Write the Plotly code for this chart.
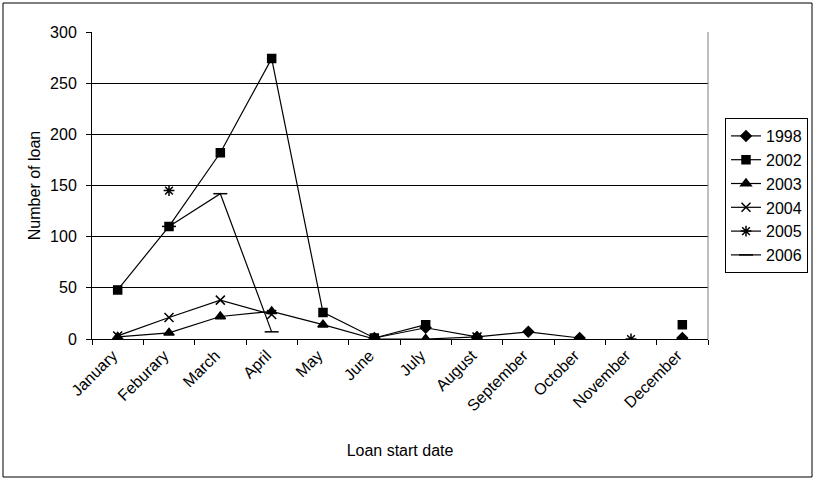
import plotly.graph_objects as go

months = ["January", "Feburary", "March", "April", "May", "June", "July",
          "August", "September", "October", "November", "December"]

y1998 = [None, None, None, None, None, 1, 11, 2, 7, 1, None, 1]
y2002 = [48, 110, 182, 274, 26, 1, 14, None, None, None, None, 14]
y2003 = [2, 6, 22, 27, 14, 0, 0, 2, None, None, None, 1]
y2004 = [3, 21, 38, 24, None, None, None, 2, None, None, None, None]
y2005 = [None, 145, None, None, None, None, None, 2, None, None, 0, None]
y2006 = [None, 110, 142, 7, None, None, None, None, None, None, None, None]

series = [
    ("1998", y1998, "diamond", 8),
    ("2002", y2002, "square", 8),
    ("2003", y2003, "triangle-up", 9),
    ("2004", y2004, "x-thin-open", 9),
    ("2005", y2005, "asterisk-open", 9),
    ("2006", y2006, "line-ew-open", 10),
]

fig = go.Figure()
for name, vals, sym, size in series:
    fig.add_trace(go.Scatter(
        x=months, y=vals, name=name, mode="lines+markers",
        connectgaps=False,
        line=dict(color="black", width=1.2),
        marker=dict(symbol=sym, size=size, color="black",
                    line=dict(color="black", width=1.5)),
    ))

L, R, T, B = 92, 111, 32, 144
W, H = 819, 483
pw, ph = W - L - R, H - T - B

def px(x):
    return (x - L) / pw

def py(y):
    return (H - B - y) / ph

fig.update_layout(
    width=W, height=H,
    margin=dict(l=L, r=R, t=T, b=B, pad=0, autoexpand=False),
    paper_bgcolor="white", plot_bgcolor="white",
    font=dict(family="Liberation Sans, Arial, sans-serif", color="black", size=16),
    showlegend=True,
    legend=dict(
        x=px(725), y=py(118), xanchor="left", yanchor="top",
        bordercolor="black", borderwidth=1,
        font=dict(size=16), tracegroupgap=0,
        bgcolor="white",
    ),
    xaxis=dict(
        type="category", range=[-0.5, 11.5],
        showline=True, linecolor="black", linewidth=1,
        ticks="outside", ticklen=5, tickcolor="black", tickson="boundaries",
        tickangle=-45, tickfont=dict(size=16), ticklabelshift=-5,
        showgrid=False, zeroline=False, automargin=False,
        title=dict(text="Loan start date", font=dict(size=16), standoff=31),
    ),
    yaxis=dict(
        range=[0, 300], dtick=50,
        showline=True, linecolor="black", linewidth=1,
        ticks="outside", ticklen=5, tickcolor="black",
        ticklabelstandoff=6,
        showgrid=True, gridcolor="black", gridwidth=1,
        zeroline=False, tickfont=dict(size=16), automargin=False,
        title=dict(text="Number of loan", font=dict(size=16), standoff=5),
    ),
    shapes=[
        dict(type="rect", xref="paper", yref="paper",
             x0=px(3), x1=px(812), y0=py(477), y1=py(3),
             line=dict(color="black", width=1), layer="below"),
        dict(type="line", xref="paper", yref="paper",
             x0=1, x1=1, y0=0, y1=1,
             line=dict(color="gray", width=1)),
    ],
)

fig.write_html("out.html")
